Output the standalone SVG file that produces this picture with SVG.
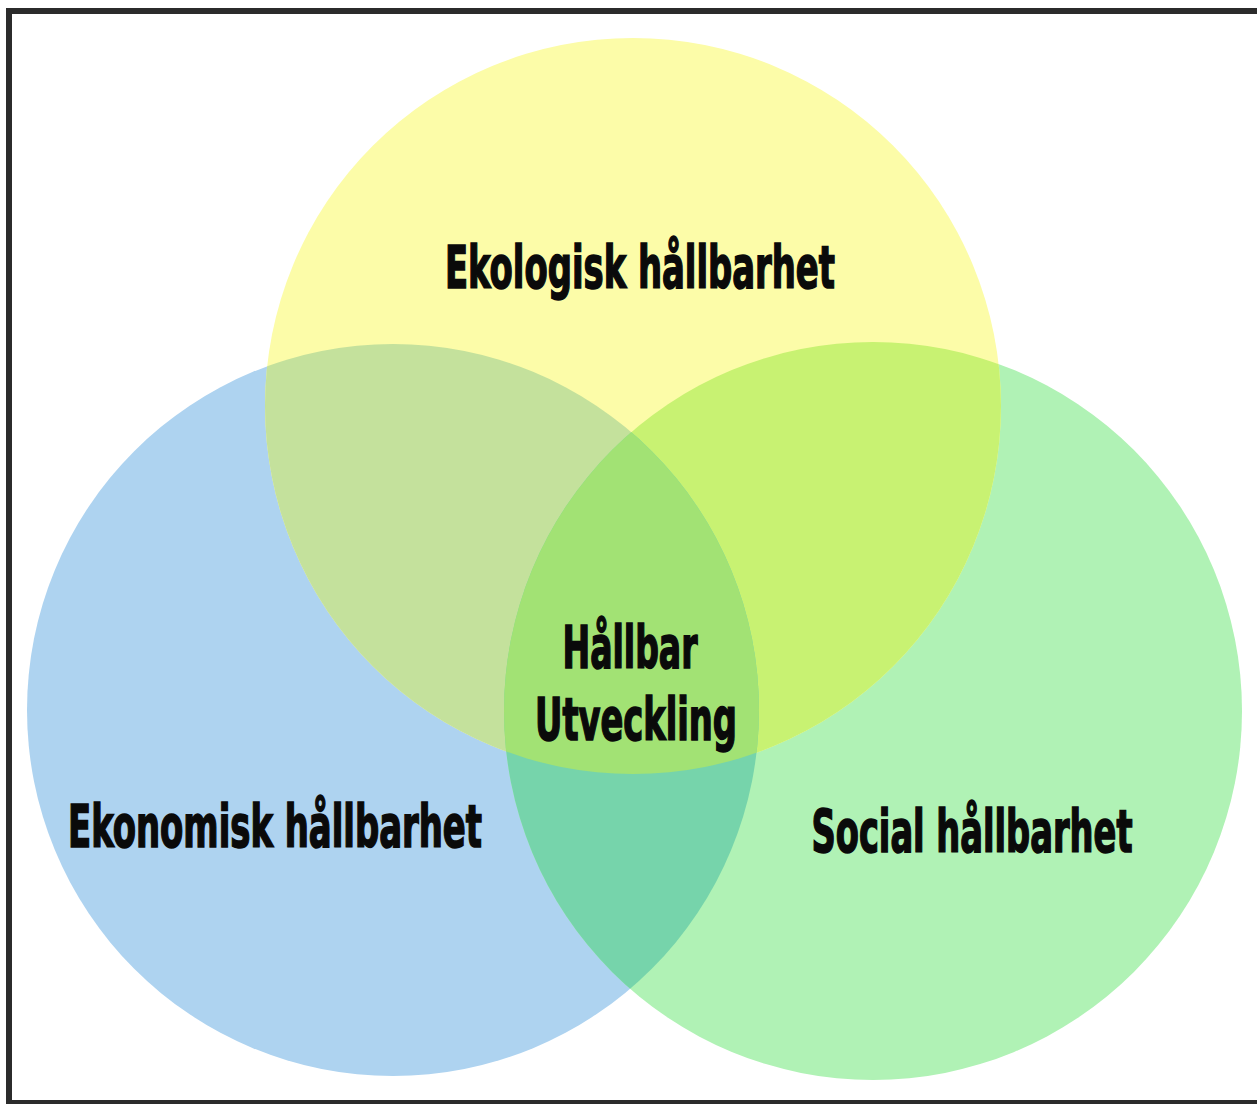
<svg xmlns="http://www.w3.org/2000/svg" width="1257" height="1104" viewBox="0 0 1257 1104">
<style>
.lbl{font-family:"Liberation Sans Narrow","DejaVu Sans Condensed","Liberation Sans",sans-serif;font-weight:bold;fill:#0a0a0a;stroke:#0a0a0a;stroke-width:1.6;text-anchor:middle}
</style>
<defs>
<clipPath id="cY"><circle cx="633" cy="406" r="368"/></clipPath>
<clipPath id="cB"><circle cx="393" cy="710" r="366"/></clipPath>
<clipPath id="cG"><circle cx="873" cy="711" r="369"/></clipPath>
</defs>
<rect x="0" y="0" width="1257" height="1104" fill="#ffffff"/>
<rect x="9" y="11" width="1262" height="1092" fill="none" stroke="#2b2b2b" stroke-width="6"/>
<g id="economic">
<circle cx="393" cy="710" r="366" fill="#aed3f0"/>
</g>
<g id="social">
<circle cx="873" cy="711" r="369" fill="#b0f2b5"/>
</g>
<g id="ecological">
<circle cx="633" cy="406" r="368" fill="#fcfca8"/>
</g>
<g id="overlaps">
<g clip-path="url(#cY)"><circle cx="393" cy="710" r="366" fill="#c4e19c"/></g>
<g clip-path="url(#cY)"><circle cx="873" cy="711" r="369" fill="#c8f272"/></g>
<g clip-path="url(#cB)"><circle cx="873" cy="711" r="369" fill="#76d4ab"/></g>
<g clip-path="url(#cB)"><g clip-path="url(#cG)"><circle cx="633" cy="406" r="368" fill="#a2e274"/></g></g>
</g>
<g id="center">
<text class="lbl" x="630" y="668" font-size="58" textLength="135" lengthAdjust="spacingAndGlyphs">Hållbar</text>
<text class="lbl" x="636" y="740" font-size="58" textLength="202" lengthAdjust="spacingAndGlyphs">Utveckling</text>
</g>
<g id="labels">
<text class="lbl" x="640" y="288" font-size="58" textLength="390" lengthAdjust="spacingAndGlyphs">Ekologisk hållbarhet</text>
<text class="lbl" x="275" y="847" font-size="58" textLength="414" lengthAdjust="spacingAndGlyphs">Ekonomisk hållbarhet</text>
<text class="lbl" x="972" y="852" font-size="58" textLength="321" lengthAdjust="spacingAndGlyphs">Social hållbarhet</text>
</g>
</svg>
